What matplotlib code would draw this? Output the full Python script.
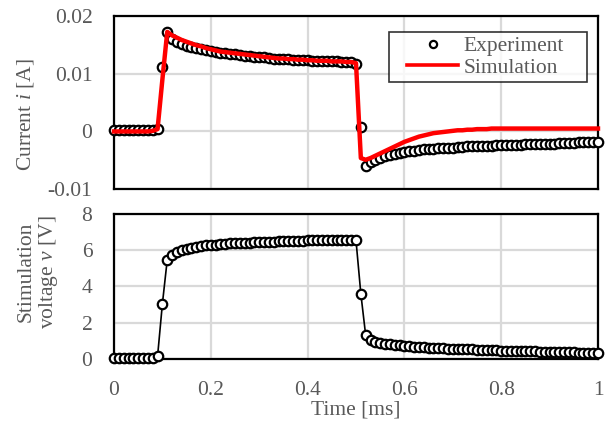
import matplotlib
matplotlib.use("Agg")
import matplotlib.pyplot as plt
from matplotlib.lines import Line2D
from matplotlib.legend_handler import HandlerLine2D

plt.rcParams['font.family'] = ['Liberation Serif', 'DejaVu Serif']
plt.rcParams['mathtext.fontset'] = 'custom'
plt.rcParams['mathtext.it'] = 'Liberation Serif:italic'
plt.rcParams['mathtext.rm'] = 'Liberation Serif'

time_ms = [0.00, 0.01, 0.02, 0.03, 0.04, 0.05, 0.06, 0.07, 0.08, 0.09,
           0.10, 0.11, 0.12, 0.13, 0.14, 0.15, 0.16, 0.17, 0.18, 0.19,
           0.20, 0.21, 0.22, 0.23, 0.24, 0.25, 0.26, 0.27, 0.28, 0.29,
           0.30, 0.31, 0.32, 0.33, 0.34, 0.35, 0.36, 0.37, 0.38, 0.39,
           0.40, 0.41, 0.42, 0.43, 0.44, 0.45, 0.46, 0.47, 0.48, 0.49,
           0.50, 0.51, 0.52, 0.53, 0.54, 0.55, 0.56, 0.57, 0.58, 0.59,
           0.60, 0.61, 0.62, 0.63, 0.64, 0.65, 0.66, 0.67, 0.68, 0.69,
           0.70, 0.71, 0.72, 0.73, 0.74, 0.75, 0.76, 0.77, 0.78, 0.79,
           0.80, 0.81, 0.82, 0.83, 0.84, 0.85, 0.86, 0.87, 0.88, 0.89,
           0.90, 0.91, 0.92, 0.93, 0.94, 0.95, 0.96, 0.97, 0.98, 0.99,
           1.00]

current_exp = [0.0003, 0.0003, 0.0003, 0.0003, 0.0003, 0.0003, 0.0003, 0.0003, 0.0003, 0.0005,
               0.0112, 0.0172, 0.0159, 0.0154, 0.0151, 0.0148, 0.0146, 0.0144, 0.0142, 0.0141,
               0.0139, 0.0137, 0.0136, 0.0135, 0.0134, 0.0133, 0.0132, 0.0131, 0.0130, 0.0129,
               0.0128, 0.0128, 0.0127, 0.0126, 0.0126, 0.0125, 0.0125, 0.0124, 0.0124, 0.0123,
               0.0123, 0.0122, 0.0122, 0.0122, 0.0121, 0.0121, 0.0121, 0.0120, 0.0120, 0.0120,
               0.0116, 0.0008, -0.0059, -0.0053, -0.0049, -0.0046, -0.0043, -0.0041, -0.0039, -0.0037,
               -0.0035, -0.0034, -0.0033, -0.0032, -0.0031, -0.0030, -0.0030, -0.0029, -0.0029, -0.0028,
               -0.0028, -0.0027, -0.0027, -0.0026, -0.0026, -0.0026, -0.0025, -0.0025, -0.0025, -0.0024,
               -0.0024, -0.0024, -0.0023, -0.0023, -0.0023, -0.0022, -0.0022, -0.0022, -0.0021, -0.0021,
               -0.0021, -0.0021, -0.0020, -0.0020, -0.0020, -0.0020, -0.0019, -0.0019, -0.0019, -0.0019,
               -0.0018]

current_sim = [0.0000, 0.0000, 0.0000, 0.0000, 0.0000, 0.0000, 0.0000, 0.0000, 0.0001, 0.0004,
               0.0090, 0.0172, 0.0166, 0.0162, 0.0158, 0.0155, 0.0152, 0.0149, 0.0147, 0.0144,
               0.0142, 0.0140, 0.0138, 0.0137, 0.0136, 0.0135, 0.0134, 0.0133, 0.0132, 0.0131,
               0.0130, 0.0129, 0.0128, 0.0127, 0.0126, 0.0126, 0.0125, 0.0125, 0.0124, 0.0124,
               0.0123, 0.0123, 0.0122, 0.0122, 0.0122, 0.0121, 0.0121, 0.0121, 0.0120, 0.0120,
               0.0118, -0.0046, -0.0049, -0.0046, -0.0042, -0.0038, -0.0034, -0.0030, -0.0026, -0.0022,
               -0.0018, -0.0015, -0.0012, -0.0009, -0.0007, -0.0005, -0.0003, -0.0002, -0.0001, 0.0000,
               0.0001, 0.0002, 0.0002, 0.0003, 0.0003, 0.0004, 0.0004, 0.0004, 0.0005, 0.0005,
               0.0005, 0.0005, 0.0005, 0.0005, 0.0005, 0.0005, 0.0005, 0.0005, 0.0005, 0.0005,
               0.0005, 0.0005, 0.0005, 0.0005, 0.0005, 0.0005, 0.0005, 0.0005, 0.0005, 0.0005,
               0.0005]

voltage = [0.02, 0.02, 0.02, 0.02, 0.02, 0.02, 0.02, 0.02, 0.02, 0.13,
           3.04, 5.47, 5.76, 5.90, 6.00, 6.07, 6.13, 6.18, 6.22, 6.26,
           6.29, 6.31, 6.33, 6.35, 6.37, 6.39, 6.40, 6.41, 6.42, 6.43,
           6.44, 6.45, 6.46, 6.47, 6.48, 6.49, 6.50, 6.51, 6.52, 6.53,
           6.54, 6.55, 6.56, 6.56, 6.57, 6.57, 6.58, 6.58, 6.58, 6.58,
           6.54, 3.59, 1.29, 1.05, 0.95, 0.88, 0.83, 0.79, 0.76, 0.73,
           0.70, 0.68, 0.66, 0.64, 0.62, 0.61, 0.59, 0.58, 0.57, 0.56,
           0.55, 0.54, 0.53, 0.52, 0.51, 0.50, 0.49, 0.48, 0.47, 0.46,
           0.45, 0.44, 0.43, 0.43, 0.42, 0.41, 0.40, 0.40, 0.39, 0.38,
           0.38, 0.37, 0.37, 0.36, 0.35, 0.35, 0.34, 0.34, 0.33, 0.33,
           0.32]

x_ticks = [0, 0.2, 0.4, 0.6, 0.8, 1]
x_ticklabels = ['0', '0.2', '0.4', '0.6', '0.8', '1']
i_ticks = [-0.01, 0, 0.01, 0.02]
i_ticklabels = ['-0.01', '0', '0.01', '0.02']
v_ticks = [0, 2, 4, 6, 8]
v_ticklabels = ['0', '2', '4', '6', '8']
legend_labels = ['Experiment', 'Simulation']

FS = 15.5
GRAY = '#595959'
GRID = '#d9d9d9'

W, H = 611, 424
fig = plt.figure(figsize=(W / 100, H / 100), dpi=100)
ax1 = fig.add_axes([114 / W, 1 - 189.3 / H, 484 / W, 173.6 / H])
ax2 = fig.add_axes([114 / W, 1 - 358.7 / H, 484 / W, 144.7 / H])

mk = dict(marker='o', markersize=6.8, markerfacecolor='white',
          markeredgecolor='black', markeredgewidth=1.6)

ax1.plot(time_ms, current_exp, linestyle='none', clip_on=False, zorder=3, **mk)
ax1.plot(time_ms, current_sim, color='#ff0000', lw=3.2, zorder=4, clip_on=False)

ax2.plot(time_ms, voltage, color='black', lw=1.2, clip_on=False, zorder=3, **mk)

for ax, ticks, labels, lim in [(ax1, i_ticks, i_ticklabels, (-0.01, 0.02)),
                               (ax2, v_ticks, v_ticklabels, (0, 8))]:
    ax.set_xlim(0, 1)
    ax.set_ylim(*lim)
    ax.set_yticks(ticks)
    ax.set_yticklabels(labels)
    ax.set_xticks(x_ticks)
    ax.grid(True, color=GRID, lw=1.6)
    ax.set_axisbelow(True)
    for s in ax.spines.values():
        s.set_linewidth(1.6)
        s.set_color('black')
        s.set_zorder(2.5)
    ax.tick_params(length=0, labelsize=FS, labelcolor=GRAY, pad=15.5)

ax1.tick_params(axis='x', labelbottom=False)
ax2.set_xticklabels(x_ticklabels)
ax2.tick_params(axis='x', pad=16)

fig.text(25 / W, 1 - 115 / H, 'Current $i$ [A]', rotation=90, ha='center',
         va='center', fontsize=FS, color=GRAY)
fig.text(38 / W, 1 - 272 / H, 'Stimulation\nvoltage $v$ [V]', rotation=90,
         ha='center', va='center', fontsize=FS, color=GRAY,
         multialignment='center', linespacing=1.1)
fig.text(356 / W, 1 - 410 / H, 'Time [ms]', ha='center', va='center',
         fontsize=FS, color=GRAY)


class ShiftedHandler(HandlerLine2D):
    def create_artists(self, legend, orig_handle, xdescent, ydescent,
                       width, height, fontsize, trans):
        shift = width * 0.22
        return super().create_artists(legend, orig_handle, xdescent - shift,
                                      ydescent, width - shift, height,
                                      fontsize, trans)


handles = [Line2D([], [], linestyle='none', marker='o', markersize=5.2,
                  markerfacecolor='white', markeredgecolor='black',
                  markeredgewidth=1.6),
           Line2D([], [], color='#ff0000', lw=2.6)]
leg = ax1.legend(handles, legend_labels, loc='upper left',
                 bbox_to_anchor=(0.568, 0.5, 0.409, 0.406), mode='expand',
                 borderaxespad=0, fontsize=FS, frameon=True, fancybox=False,
                 handlelength=3.0, handletextpad=0.25, borderpad=0.2,
                 labelspacing=0.05,
                 handler_map={Line2D: ShiftedHandler()})
leg.get_frame().set_edgecolor('black')
leg.get_frame().set_linewidth(1.2)
for t in leg.get_texts():
    t.set_color(GRAY)

fig.savefig('out.png', dpi=100)
